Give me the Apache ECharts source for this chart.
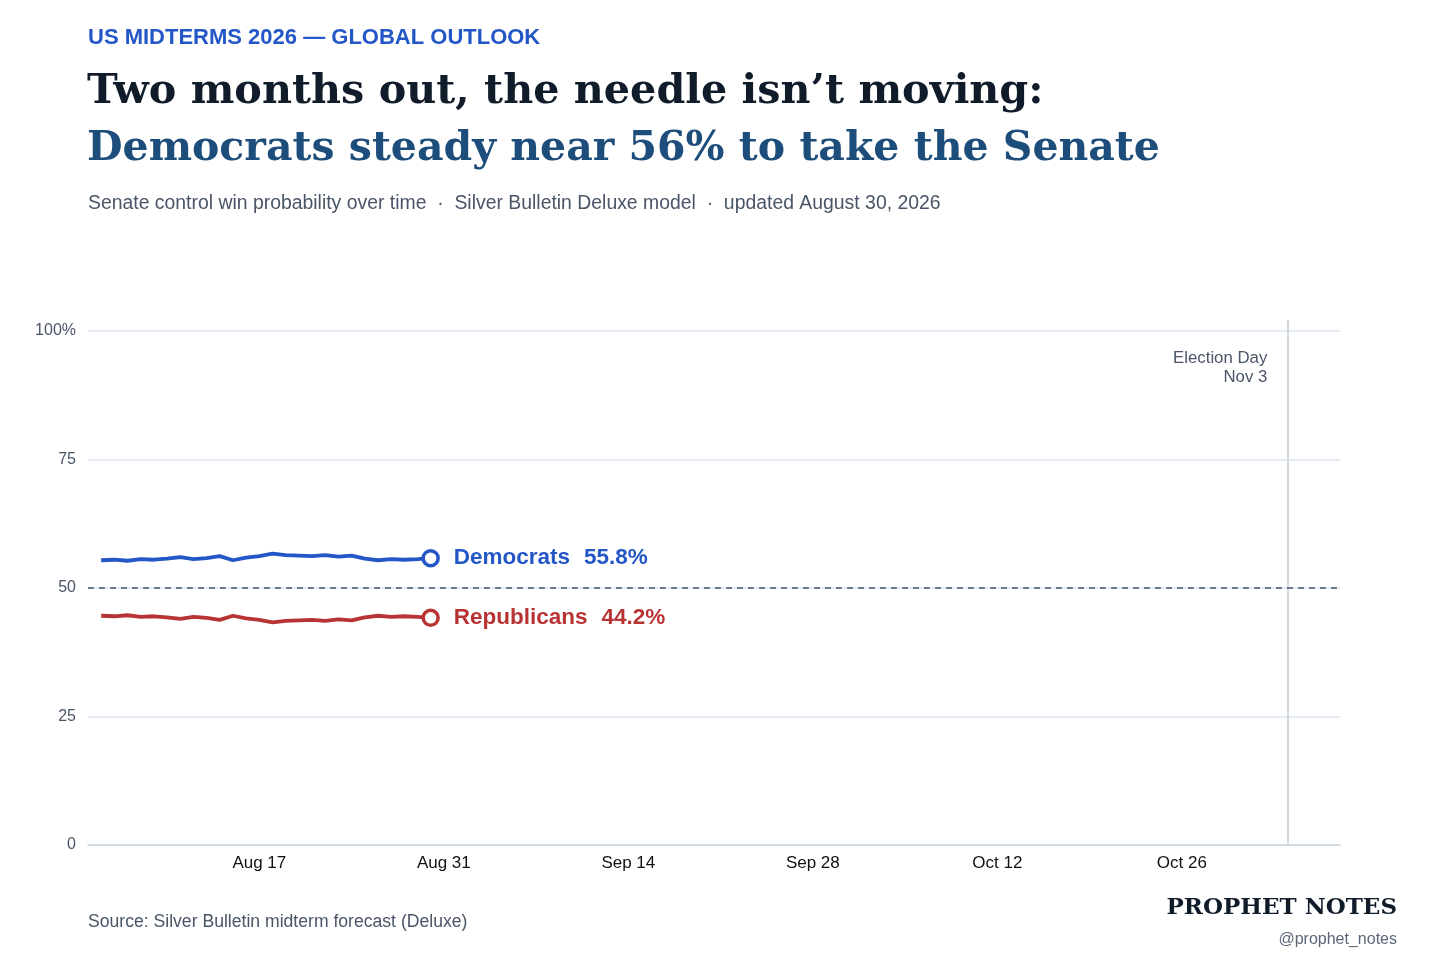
<!DOCTYPE html>
<html>
<head>
<meta charset="utf-8">
<script src="https://cdn.jsdelivr.net/npm/echarts@6/dist/echarts.min.js"></script>
<style>
html,body{margin:0;padding:0;background:#fff;}
#c{width:1456px;height:971px;}
</style>
</head>
<body>
<div id="c"></div>
<script>
// ---- data ----
const dates = ['2026-08-05','2026-08-06','2026-08-07','2026-08-08','2026-08-09','2026-08-10','2026-08-11','2026-08-12','2026-08-13','2026-08-14','2026-08-15','2026-08-16','2026-08-17','2026-08-18','2026-08-19','2026-08-20','2026-08-21','2026-08-22','2026-08-23','2026-08-24','2026-08-25','2026-08-26','2026-08-27','2026-08-28','2026-08-29','2026-08-30'];
const demValues = [55.4,55.5,55.3,55.6,55.5,55.7,56.0,55.6,55.8,56.2,55.4,55.9,56.2,56.7,56.4,56.3,56.2,56.4,56.1,56.3,55.7,55.4,55.6,55.5,55.6,55.8];
const repValues = [44.6,44.5,44.7,44.4,44.5,44.3,44.0,44.4,44.2,43.8,44.6,44.1,43.8,43.3,43.6,43.7,43.8,43.6,43.9,43.7,44.3,44.6,44.4,44.5,44.4,44.2];
const xTickDates = ['2026-08-17','2026-08-31','2026-09-14','2026-09-28','2026-10-12','2026-10-26'];
const xTickLabels = ['Aug 17','Aug 31','Sep 14','Sep 28','Oct 12','Oct 26'];
const yTicks = [0,25,50,75,100];
const xMinDate = '2026-08-04';
const xMaxDate = '2026-11-07';
const electionDate = '2026-11-03';
const seriesNames = ['Democrats','Republicans'];

// day number since Unix epoch
const dayNum = d => Math.round(Date.parse(d + 'T00:00:00Z') / 86400000);
const BLUE = '#2356c6', RED = '#b83434';
const SANS = '"Liberation Sans", Arial, sans-serif';
const SLAB = '"DejaVu Serif", serif';
const tickNums = xTickDates.map(dayNum);

function buildSeries(vals, color, name) {
  const data = vals.map((v, i) => {
    const item = { value: [dayNum(dates[i]), v] };
    if (i === vals.length - 1) {
      item.symbol = 'circle';
      item.symbolSize = 15;
      item.itemStyle = { color: '#fff', borderColor: color, borderWidth: 3.5 };
    }
    return item;
  });
  return {
    type: 'line', name: name, xAxisIndex: 0, yAxisIndex: 0,
    data: data, symbol: 'none', showSymbol: true, smooth: false,
    lineStyle: { color: color, width: 3.8 },
    itemStyle: { color: color },
    z: 5,
    endLabel: {
      show: true, distance: 23,
      formatter: p => '{n|' + name + '}{g|}{v|' + p.value[1].toFixed(1) + '%}',
      rich: {
        n: { fontFamily: SANS, fontWeight: 'bold', fontSize: 22.5, color: color },
        g: { width: 14 },
        v: { fontFamily: SANS, fontWeight: 'bold', fontSize: 22.5, color: color }
      }
    },
    emphasis: { disabled: true }
  };
}

const chart = echarts.init(document.getElementById('c'), null, { renderer: 'canvas' });
chart.setOption({
  backgroundColor: '#fff',
  animation: false,
  title: [
    { text: 'US MIDTERMS 2026 — GLOBAL OUTLOOK', left: 88, top: 27, padding: 0,
      textStyle: { fontFamily: SANS, fontWeight: 'bold', fontSize: 22, color: '#2356c6' } },
    { text: 'Two months out, the needle isn’t moving:', left: 87, top: 72, padding: 0,
      textStyle: { fontFamily: SLAB, fontWeight: 'bold', fontSize: 41.3, color: '#111c2b' } },
    { text: 'Democrats steady near 56% to take the Senate', left: 87, top: 129, padding: 0,
      textStyle: { fontFamily: SLAB, fontWeight: 'bold', fontSize: 41, color: '#1d4d7a' } },
    { text: 'Senate control win probability over time  ·  Silver Bulletin Deluxe model  ·  updated August 30, 2026', left: 88, top: 194, padding: 0,
      textStyle: { fontFamily: SANS, fontWeight: 'normal', fontSize: 19.4, color: '#4a5568' } },
    { text: 'Source: Silver Bulletin midterm forecast (Deluxe)', left: 88, top: 913, padding: 0,
      textStyle: { fontFamily: SANS, fontWeight: 'normal', fontSize: 17.6, color: '#4a5568' } },
    { text: 'PROPHET NOTES', right: 59, top: 897, padding: 0,
      textStyle: { fontFamily: SLAB, fontWeight: 'bold', fontSize: 23, color: '#111c2b' } },
    { text: '@prophet_notes', right: 59, top: 932, padding: 0,
      textStyle: { fontFamily: SANS, fontWeight: 'normal', fontSize: 16, color: '#5a6678' } }
  ],
  grid: [
    { left: 88, right: 116, top: 331, bottom: 126, containLabel: false },
    { left: 88, right: 116, top: 320, bottom: 126, containLabel: false }
  ],
  xAxis: [
    {
      type: 'value', gridIndex: 0, min: dayNum(xMinDate), max: dayNum(xMaxDate),
      axisLine: { show: true, lineStyle: { color: '#cbd5e1', width: 1.5 } },
      axisTick: { show: false },
      splitLine: { show: false },
      axisLabel: {
        show: true, customValues: tickNums, margin: 10,
        fontFamily: SANS, fontSize: 17, color: '#111',
        formatter: v => {
          const i = tickNums.indexOf(Math.round(v));
          return i >= 0 ? xTickLabels[i] : '';
        }
      }
    },
    {
      type: 'value', gridIndex: 1, min: dayNum(xMinDate), max: dayNum(xMaxDate), show: false
    }
  ],
  yAxis: [
    {
      type: 'value', gridIndex: 0, min: 0, max: 100, interval: 25,
      axisLine: { show: false }, axisTick: { show: false },
      splitLine: { show: true, lineStyle: { color: '#dde5ee', width: 1.5 } },
      axisLabel: {
        fontFamily: SANS, fontSize: 16, color: '#4a5568', margin: 12,
        formatter: v => (v === 100 ? v + '%' : String(v))
      }
    },
    { type: 'value', gridIndex: 1, min: 0, max: 100, show: false }
  ],
  series: [
    {
      type: 'line', xAxisIndex: 1, yAxisIndex: 1, data: [[dayNum(electionDate), 0]],
      symbol: 'none', silent: true, lineStyle: { opacity: 0 }, z: 1,
      markLine: {
        silent: true, symbol: ['none', 'none'],
        lineStyle: { color: '#cfd8e3', width: 2, type: 'solid' },
        label: {
          show: true, position: 'insideEndBottom', formatter: 'Election Day\nNov 3',
          fontFamily: SANS, fontSize: 16.8, color: '#4a5568', lineHeight: 19,
          rotate: 0, distance: [20, 29], align: 'right'
        },
        data: [{ xAxis: dayNum(electionDate) }]
      }
    },
    {
      type: 'line', xAxisIndex: 0, yAxisIndex: 0, data: [], z: 2,
      markLine: {
        silent: true, symbol: ['none', 'none'],
        lineStyle: { color: '#4a5568', width: 1.5, type: [6, 5] },
        label: { show: false },
        data: [{ yAxis: 50 }]
      }
    },
    buildSeries(demValues, BLUE, seriesNames[0]),
    buildSeries(repValues, RED, seriesNames[1])
  ]
});
</script>
</body>
</html>
